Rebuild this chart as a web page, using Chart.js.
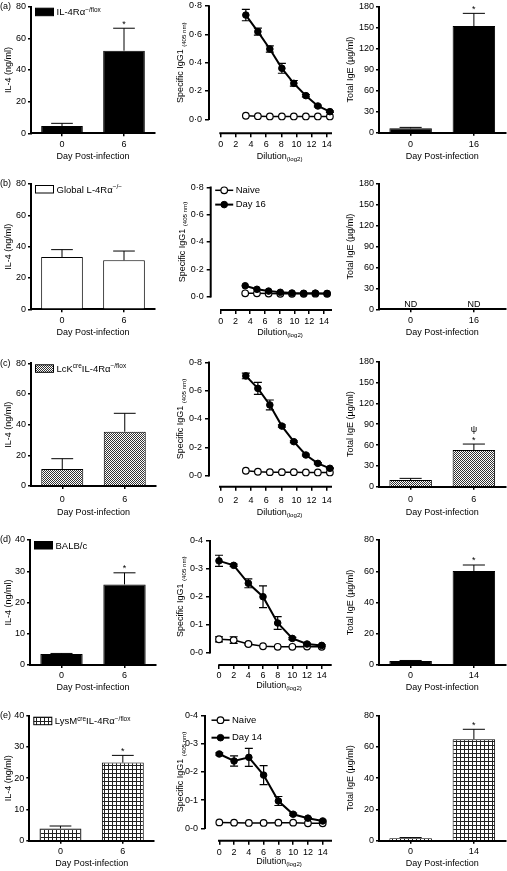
<!DOCTYPE html>
<html>
<head>
<meta charset="utf-8">
<title>IL-4, IgG1 and IgE panels</title>
<script src="https://cdn.jsdelivr.net/npm/chart.js@4.4.1/dist/chart.umd.min.js"></script>
<style>
  html, body { margin: 0; padding: 0; background: #fff; }
  body { position: relative; width: 507px; height: 871px; overflow: hidden; }
  canvas { position: absolute; }
</style>
</head>
<body>
<script>
const FONT = "'Liberation Sans', Arial, Helvetica, sans-serif";

// ---- IL-4 (ng/ml), left column ----
const IL4_DAYS = ["0", "6"];
const IL4_TICKS_ABC = [0, 20, 40, 60, 80];
const IL4_TICKS_DE = [0, 10, 20, 30, 40];

const IL4_A = [4.6, 52.2];
const IL4_A_ERR = [1.7, 14.2];
const IL4_A_SIG = [[], ["*"]];

const IL4_B = [33.4, 31.3];
const IL4_B_ERR = [4.7, 5.9];

const IL4_C = [11.1, 35.4];
const IL4_C_ERR = [6.7, 12.0];

const IL4_D = [3.5, 25.8];
const IL4_D_ERR = [0.2, 3.7];
const IL4_D_SIG = [[], ["*"]];

const IL4_E = [3.9, 25.0];
const IL4_E_ERR = [0.8, 2.3];
const IL4_E_SIG = [[], ["*"]];

const GENO_A = [{ t: "IL-4Rα" }, { t: "−/flox", sup: true }];
const GENO_B = [{ t: "Global L-4Rα" }, { t: "−/−", sup: true }];
const GENO_C = [{ t: "LcK" }, { t: "cre", sup: true }, { t: "IL-4Rα" }, { t: "−/flox", sup: true }];
const GENO_D = [{ t: "BALB/c" }];
const GENO_E = [{ t: "LysM" }, { t: "cre", sup: true }, { t: "IL-4Rα" }, { t: "−/flox", sup: true }];

// ---- specific IgG1 titrations, middle column ----
const DILUTION_ABC = [3.32, 4.91, 6.49, 8.08, 9.66, 11.25, 12.83, 14.42];
const DILUTION_DE = [0, 2, 4, 6, 8, 10, 12, 14];
const DILUTION_TICKS = [0, 2, 4, 6, 8, 10, 12, 14];
const IGG1_TICKS_ABC = [0, 0.2, 0.4, 0.6, 0.8];
const IGG1_TICKS_DE = [0, 0.1, 0.2, 0.3, 0.4];

const IGG1_A_DAY = [0.736, 0.619, 0.496, 0.360, 0.254, 0.167, 0.094, 0.054];
const IGG1_A_DAY_ERR = [0.040, 0.025, 0.022, 0.035, 0.020, 0.008, 0.006, 0.005];
const IGG1_A_NAIVE = [0.025, 0.022, 0.020, 0.020, 0.020, 0.020, 0.020, 0.020];

const IGG1_B_DAY = [0.080, 0.054, 0.041, 0.032, 0.027, 0.025, 0.026, 0.024];
const IGG1_B_NAIVE = [0.025, 0.025, 0.023, 0.021, 0.021, 0.021, 0.022, 0.021];
const IGG1_B_SERIES = ["Naive", "Day 16"];

const IGG1_C_DAY = [0.704, 0.616, 0.499, 0.350, 0.240, 0.146, 0.087, 0.052];
const IGG1_C_DAY_ERR = [0.020, 0.042, 0.035, 0.008, 0.006, 0.006, 0.005, 0.004];
const IGG1_C_NAIVE = [0.035, 0.028, 0.025, 0.025, 0.025, 0.023, 0.023, 0.023];

const IGG1_D_DAY = [0.328, 0.312, 0.248, 0.200, 0.106, 0.051, 0.031, 0.026];
const IGG1_D_DAY_ERR = [0.020, 0.004, 0.016, 0.039, 0.023, 0.004, 0.003, 0.003];
const IGG1_D_NAIVE = [0.048, 0.045, 0.031, 0.023, 0.021, 0.021, 0.022, 0.021];
const IGG1_D_NAIVE_ERR = [0.009, 0.012, 0.003, 0, 0, 0, 0, 0];

const IGG1_E_DAY = [0.264, 0.239, 0.252, 0.189, 0.097, 0.050, 0.036, 0.026];
const IGG1_E_DAY_ERR = [0.004, 0.018, 0.032, 0.034, 0.016, 0.004, 0.003, 0.003];
const IGG1_E_NAIVE = [0.021, 0.020, 0.019, 0.019, 0.020, 0.020, 0.018, 0.018];
const IGG1_E_SERIES = ["Naive", "Day 14"];

// ---- total IgE (µg/ml), right column ----
const IGE_TICKS_ABC = [0, 30, 60, 90, 120, 150, 180];
const IGE_TICKS_DE = [0, 20, 40, 60, 80];

const IGE_A_DAYS = ["0", "16"];
const IGE_A = [6.2, 152.4];
const IGE_A_ERR = [1.4, 18.1];
const IGE_A_SIG = [[], ["*"]];

const IGE_B_DAYS = ["0", "16"];
const IGE_B = [null, null];
const IGE_B_NOTE = ["ND", "ND"];

const IGE_C_DAYS = ["0", "6"];
const IGE_C = [9.6, 52.8];
const IGE_C_ERR = [2.4, 8.6];
const IGE_C_SIG = [[], ["*", "ψ"]];

const IGE_D_DAYS = ["0", "14"];
const IGE_D = [2.5, 60.2];
const IGE_D_ERR = [0.4, 3.8];
const IGE_D_SIG = [[], ["*"]];

const IGE_E_DAYS = ["0", "14"];
const IGE_E = [1.6, 65.0];
const IGE_E_ERR = [0.4, 6.3];
const IGE_E_SIG = [[], ["*"]];

// ---- fills ----
function tile(size, paint) {
    const c = document.createElement("canvas");
    c.width = size;
    c.height = size;
    const g = c.getContext("2d");
    paint(g);
    return g.createPattern(c, "repeat");
}

// fine dotted fill used for the LcK-cre bars
const CHECKER = tile(2, (g) => {
    g.fillStyle = "#fff";
    g.fillRect(0, 0, 2, 2);
    g.fillStyle = "#333";
    g.fillRect(0, 0, 1, 1);
    g.fillRect(1, 1, 1, 1);
});

// square grid fill used for the LysM-cre bars
const GRID = tile(4, (g) => {
    g.fillStyle = "#fff";
    g.fillRect(0, 0, 4, 4);
    g.fillStyle = "#222";
    g.fillRect(0, 0, 4, 1);
    g.fillRect(0, 0, 1, 4);
});

// ---- drawing helpers ----
function richWidth(ctx, parts, size) {
    let w = 0;
    parts.forEach((p) => {
        ctx.font = `${p.sup || p.sub ? size * 0.68 : size}px ${FONT}`;
        w += ctx.measureText(p.t).width;
    });
    return w;
}

function drawRich(ctx, parts, x, y, size, align, rot) {
    ctx.save();
    ctx.translate(x, y);
    if (rot) ctx.rotate(rot);
    let cx = align === "center" ? -richWidth(ctx, parts, size) / 2 : 0;
    ctx.textAlign = "left";
    ctx.textBaseline = "alphabetic";
    ctx.fillStyle = "#000";
    parts.forEach((p) => {
        const s = p.sup || p.sub ? size * 0.68 : size;
        ctx.font = `${s}px ${FONT}`;
        const dy = p.sup ? -size * 0.4 : p.sub ? size * 0.28 : 0;
        ctx.fillText(p.t, cx, dy + size * 0.36);
        cx += ctx.measureText(p.t).width;
    });
    ctx.restore();
}

function drawErrors(chart) {
    const ctx = chart.ctx;
    const ys = chart.scales.y;
    chart.data.datasets.forEach((ds, i) => {
        if (!ds.errors) return;
        const meta = chart.getDatasetMeta(i);
        const isBar = meta.type === "bar";
        ctx.save();
        ctx.strokeStyle = "#000";
        ctx.lineWidth = isBar ? 1 : 1.2;
        meta.data.forEach((el, j) => {
            const err = ds.errors[j];
            const raw = ds.data[j];
            const v = raw !== null && typeof raw === "object" ? raw.y : raw;
            if (!err || v === null || v === undefined) return;
            const top = ys.getPixelForValue(v + err);
            const bot = isBar ? el.y : ys.getPixelForValue(v - err);
            const hw = isBar ? el.width * 0.26 : 4;
            ctx.beginPath();
            ctx.moveTo(el.x, bot);
            ctx.lineTo(el.x, top);
            ctx.moveTo(el.x - hw, top);
            ctx.lineTo(el.x + hw, top);
            if (!isBar) {
                ctx.moveTo(el.x - hw, bot);
                ctx.lineTo(el.x + hw, bot);
            }
            ctx.stroke();
        });
        ctx.restore();
    });
}

const decor = {
    id: "decor",
    beforeDatasetsDraw(chart) {
        if (chart.config.type === "line") drawErrors(chart);
    },
    afterDatasetsDraw(chart) {
        if (chart.config.type === "bar") drawErrors(chart);
    },
    afterDraw(chart) {
        const p = chart.canvas._decor;
        const ctx = chart.ctx;
        const a = chart.chartArea;
        const xs = chart.scales.x;
        const ys = chart.scales.y;
        const zero = ys.getPixelForValue(0);
        ctx.save();
        ctx.fillStyle = "#000";
        ctx.strokeStyle = "#000";

        let xMid = (a.left + a.right) / 2;
        if (p.kind === "line") {
            const xStart = xs.getPixelForValue(p.xLineFrom);
            ctx.lineWidth = 2;
            ctx.beginPath();
            ctx.moveTo(a.left, zero + 0.75);
            ctx.lineTo(a.left, a.top - 0.75);
            ctx.moveTo(xStart, a.bottom);
            ctx.lineTo(a.right, a.bottom);
            ctx.stroke();
            xMid = (xStart + a.right) / 2 + 4;
        }

        drawRich(ctx, p.yTitle, a.left - p.yTitleOff, (zero + a.top) / 2, 9, "center", -Math.PI / 2);
        drawRich(ctx, p.xTitle, xMid, a.bottom + p.titleGap, 9, "center");

        if (p.tag) {
            ctx.font = `9px ${FONT}`;
            ctx.textAlign = "left";
            ctx.textBaseline = "middle";
            ctx.fillText(p.tag, 0, a.top);
        }

        if (p.legend) {
            const bx = a.left + 4.5, by = a.top + 1.5, bw = 18, bh = 7.5;
            ctx.fillStyle = p.fill;
            ctx.fillRect(bx, by, bw, bh);
            ctx.lineWidth = 1;
            ctx.strokeRect(bx, by, bw, bh);
            drawRich(ctx, p.legend, bx + bw + 3, by + bh / 2, 9.5, "left");
        }

        if (p.series) {
            p.legendOrder.forEach((di, k) => {
                const ds = chart.data.datasets[di];
                const y = a.top + p.legendPos.dy + k * p.legendPos.gap;
                const x1 = a.left + p.legendPos.dx;
                const x2 = x1 + 18;
                ctx.lineWidth = ds.borderWidth;
                ctx.strokeStyle = "#000";
                ctx.beginPath();
                ctx.moveTo(x1, y);
                ctx.lineTo(x2, y);
                ctx.stroke();
                ctx.beginPath();
                ctx.arc((x1 + x2) / 2, y, ds.pointRadius, 0, Math.PI * 2);
                ctx.fillStyle = ds.pointBackgroundColor;
                ctx.fill();
                ctx.lineWidth = ds.pointBorderWidth;
                ctx.stroke();
                ctx.fillStyle = "#000";
                ctx.font = `9.5px ${FONT}`;
                ctx.textAlign = "left";
                ctx.textBaseline = "middle";
                ctx.fillText(ds.label, x2 + 2.5, y);
            });
        }

        if (p.marks || p.notes) {
            ctx.fillStyle = "#000";
            ctx.font = `9px ${FONT}`;
            ctx.textAlign = "center";
            ctx.textBaseline = "middle";
            p.values.forEach((v, j) => {
                const x = xs.getPixelForValue(j);
                if (v === null) {
                    if (p.notes) ctx.fillText(p.notes[j], x, zero - 5);
                    return;
                }
                const cap = ys.getPixelForValue(v + (p.errors ? p.errors[j] : 0));
                ((p.marks && p.marks[j]) || []).forEach((m, k) => {
                    ctx.fillText(m, x, cap - 4 - k * 11);
                });
            });
        }
        ctx.restore();
    },
};

function makeCanvas(box) {
    const c = document.createElement("canvas");
    c.width = box[2];
    c.height = box[3];
    c.style.left = box[0] + "px";
    c.style.top = box[1] + "px";
    c.style.width = box[2] + "px";
    c.style.height = box[3] + "px";
    document.body.appendChild(c);
    return c;
}

function tickGrid(len) {
    return { drawOnChartArea: false, drawTicks: true, tickLength: len, color: "#000", lineWidth: 1.5 };
}

function baseOptions(p, scales) {
    const box = p.box, area = p.area;
    const yWidth = area[0] - box[0];
    const xHeight = box[1] + box[3] - area[3];
    scales.x.afterFit = (s) => {
        s.height = xHeight;
        s.paddingLeft = 0;
        s.paddingRight = 0;
    };
    scales.y.afterFit = (s) => {
        s.width = yWidth;
        s.paddingTop = 0;
        s.paddingBottom = 0;
    };
    return {
        responsive: false,
        animation: false,
        devicePixelRatio: 1,
        layout: { padding: { left: 0, bottom: 0, top: area[1] - box[1], right: box[0] + box[2] - area[2] } },
        plugins: { legend: { display: false }, tooltip: { enabled: false } },
        scales,
    };
}

function tickFont() {
    return { family: FONT, size: 9 };
}

function barPanel(p) {
    p.kind = "bar";
    const canvas = makeCanvas(p.box);
    canvas._decor = p;
    return new Chart(canvas, {
        type: "bar",
        data: {
            labels: p.labels,
            datasets: [{
                data: p.values,
                errors: p.errors,
                backgroundColor: p.fill,
                borderColor: "#000",
                borderWidth: 1,
                barPercentage: 0.84,
                categoryPercentage: 0.8,
            }],
        },
        options: baseOptions(p, {
            x: {
                grid: { ...tickGrid(3), offset: false },
                border: { display: true, color: "#000", width: 2 },
                ticks: { color: "#000", font: tickFont(), padding: p.tickPad, maxRotation: 0, autoSkip: false },
            },
            y: {
                min: 0,
                max: p.yTicks[p.yTicks.length - 1],
                afterBuildTicks: (s) => { s.ticks = p.yTicks.map((v) => ({ value: v })); },
                grid: tickGrid(3),
                border: { display: true, color: "#000", width: 2 },
                ticks: { color: "#000", font: tickFont(), padding: 2, callback: (v) => String(v) },
            },
        }),
        plugins: [decor],
    });
}

function linePanel(p) {
    p.kind = "line";
    const canvas = makeCanvas(p.box);
    canvas._decor = p;
    const area = p.area;
    const unit = (p.px14 - p.px0) / 14;
    const xMin = (area[0] - p.px0) / unit;
    const xMax = (area[2] - p.px0) / unit;
    p.xLineFrom = (p.lineStart - p.px0) / unit;
    const yMax = p.yTicks[p.yTicks.length - 1];
    const yMin = -yMax * (area[3] - p.zeroPx) / (p.zeroPx - area[1]);
    const pts = (ys) => p.dilution.map((x, i) => ({ x, y: ys[i] }));
    return new Chart(canvas, {
        type: "line",
        data: {
            datasets: [
                {
                    label: p.names[1], data: pts(p.day), errors: p.dayErr,
                    borderColor: "#000", borderWidth: 2, tension: 0, clip: false,
                    pointRadius: 3.3, pointBackgroundColor: "#000", pointBorderColor: "#000", pointBorderWidth: 1,
                },
                {
                    label: p.names[0], data: pts(p.naive), errors: p.naiveErr,
                    borderColor: "#000", borderWidth: 1.5, tension: 0, clip: false,
                    pointRadius: 3.3, pointBackgroundColor: "#fff", pointBorderColor: "#000", pointBorderWidth: 1.2,
                },
            ],
        },
        options: baseOptions(p, {
            x: {
                type: "linear",
                min: xMin,
                max: xMax,
                afterBuildTicks: (s) => { s.ticks = DILUTION_TICKS.map((v) => ({ value: v })); },
                grid: tickGrid(4),
                border: { display: false },
                ticks: { color: "#000", font: tickFont(), padding: p.tickPad, maxRotation: 0, autoSkip: false, callback: (v) => String(v) },
            },
            y: {
                min: yMin,
                max: yMax,
                afterBuildTicks: (s) => { s.ticks = p.yTicks.map((v) => ({ value: v })); },
                grid: tickGrid(4),
                border: { display: false },
                ticks: { color: "#000", font: tickFont(), padding: 3, callback: (v) => v.toFixed(1).replace(".", p.sep) },
            },
        }),
        plugins: [decor],
    });
}

const IL4_TITLE = [{ t: "IL-4 (ng/ml)" }];
const DAY_TITLE = [{ t: "Day Post-infection" }];
const IGG1_TITLE = [{ t: "Specific IgG1 " }, { t: "(405 nm)", sub: true }];
const DIL_TITLE = [{ t: "Dilution" }, { t: "(log2)", sub: true }];
const IGE_TITLE = [{ t: "Total IgE (µg/ml)" }];

// ---- left column ----
barPanel({ box: [0, 0, 168, 172], area: [31, 6.7, 155, 133.3], tickPad: 3, titleGap: 22.4,
    labels: IL4_DAYS, values: IL4_A, errors: IL4_A_ERR, marks: IL4_A_SIG, fill: "#000",
    yTicks: IL4_TICKS_ABC, yTitle: IL4_TITLE, yTitleOff: 23, xTitle: DAY_TITLE, tag: "(a)", legend: GENO_A });
barPanel({ box: [0, 175, 168, 172], area: [31, 184, 155, 309.3], tickPad: 3, titleGap: 22.7,
    labels: IL4_DAYS, values: IL4_B, errors: IL4_B_ERR, fill: "#fff",
    yTicks: IL4_TICKS_ABC, yTitle: IL4_TITLE, yTitleOff: 23, xTitle: DAY_TITLE, tag: "(b)", legend: GENO_B });
barPanel({ box: [0, 350, 168, 174], area: [31, 363.3, 156, 486], tickPad: 5, titleGap: 25.7,
    labels: IL4_DAYS, values: IL4_C, errors: IL4_C_ERR, fill: CHECKER,
    yTicks: IL4_TICKS_ABC, yTitle: IL4_TITLE, yTitleOff: 23, xTitle: DAY_TITLE, tag: "(c)", legend: GENO_C });
barPanel({ box: [0, 525, 168, 172], area: [30, 540, 156, 665], tickPad: 2, titleGap: 21.7,
    labels: IL4_DAYS, values: IL4_D, errors: IL4_D_ERR, marks: IL4_D_SIG, fill: "#000",
    yTicks: IL4_TICKS_DE, yTitle: IL4_TITLE, yTitleOff: 22, xTitle: DAY_TITLE, tag: "(d)", legend: GENO_D });
barPanel({ box: [0, 697, 168, 174], area: [29.3, 715.7, 154, 840.7], tickPad: 2, titleGap: 22,
    labels: IL4_DAYS, values: IL4_E, errors: IL4_E_ERR, marks: IL4_E_SIG, fill: GRID,
    yTicks: IL4_TICKS_DE, yTitle: IL4_TITLE, yTitleOff: 21.5, xTitle: DAY_TITLE, tag: "(e)", legend: GENO_E });

// ---- middle column ----
linePanel({ box: [168, 0, 172, 172], area: [209, 6, 332, 133.3], zeroPx: 119.3, px0: 220.7, px14: 326.7, lineStart: 219.3,
    tickPad: 2, titleGap: 22.4, sep: "·", yTicks: IGG1_TICKS_ABC, dilution: DILUTION_ABC,
    day: IGG1_A_DAY, dayErr: IGG1_A_DAY_ERR, naive: IGG1_A_NAIVE, names: ["Naive", "Day 16"],
    yTitle: IGG1_TITLE, yTitleOff: 29, xTitle: DIL_TITLE });
linePanel({ box: [168, 175, 172, 172], area: [210.7, 187.3, 332, 310], zeroPx: 296.7, px0: 220.7, px14: 324, lineStart: 220,
    tickPad: 2, titleGap: 21.7, sep: "·", yTicks: IGG1_TICKS_ABC, dilution: DILUTION_ABC,
    day: IGG1_B_DAY, naive: IGG1_B_NAIVE, names: IGG1_B_SERIES,
    series: true, legendOrder: [1, 0], legendPos: { dx: 4.5, dy: 3, gap: 14.3 },
    yTitle: IGG1_TITLE, yTitleOff: 29, xTitle: DIL_TITLE });
linePanel({ box: [168, 350, 172, 174], area: [209, 362.3, 332, 486.7], zeroPx: 475.7, px0: 220.7, px14: 326.7, lineStart: 219,
    tickPad: 4, titleGap: 25, sep: "-", yTicks: IGG1_TICKS_ABC, dilution: DILUTION_ABC,
    day: IGG1_C_DAY, dayErr: IGG1_C_DAY_ERR, naive: IGG1_C_NAIVE, names: ["Naive", "Day 6"],
    yTitle: IGG1_TITLE, yTitleOff: 29, xTitle: DIL_TITLE });
linePanel({ box: [168, 525, 172, 172], area: [210, 540.7, 331.7, 665], zeroPx: 652.7, px0: 219, px14: 321.7, lineStart: 218.3,
    tickPad: 1, titleGap: 19.5, sep: "-", yTicks: IGG1_TICKS_DE, dilution: DILUTION_DE,
    day: IGG1_D_DAY, dayErr: IGG1_D_DAY_ERR, naive: IGG1_D_NAIVE, naiveErr: IGG1_D_NAIVE_ERR, names: ["Naive", "Day 14"],
    yTitle: IGG1_TITLE, yTitleOff: 30, xTitle: DIL_TITLE });
linePanel({ box: [168, 697, 172, 174], area: [205, 715.7, 332, 840.7], zeroPx: 828.3, px0: 219.3, px14: 322.7, lineStart: 218,
    tickPad: 2, titleGap: 20, sep: "-", yTicks: IGG1_TICKS_DE, dilution: DILUTION_DE,
    day: IGG1_E_DAY, dayErr: IGG1_E_DAY_ERR, naive: IGG1_E_NAIVE, names: IGG1_E_SERIES,
    series: true, legendOrder: [1, 0], legendPos: { dx: 6.5, dy: 4.5, gap: 17.5 },
    yTitle: IGG1_TITLE, yTitleOff: 25, xTitle: DIL_TITLE });

// ---- right column ----
barPanel({ box: [340, 0, 167, 172], area: [379, 6.7, 505.5, 132.7], tickPad: 3, titleGap: 23,
    labels: IGE_A_DAYS, values: IGE_A, errors: IGE_A_ERR, marks: IGE_A_SIG, fill: "#000",
    yTicks: IGE_TICKS_ABC, yTitle: IGE_TITLE, yTitleOff: 29, xTitle: DAY_TITLE });
barPanel({ box: [340, 175, 167, 172], area: [379, 184, 505.5, 309.3], tickPad: 3, titleGap: 22.7,
    labels: IGE_B_DAYS, values: IGE_B, notes: IGE_B_NOTE, fill: "#fff",
    yTicks: IGE_TICKS_ABC, yTitle: IGE_TITLE, yTitleOff: 29, xTitle: DAY_TITLE });
barPanel({ box: [340, 350, 167, 174], area: [379, 361.7, 505.5, 486.7], tickPad: 4, titleGap: 25.3,
    labels: IGE_C_DAYS, values: IGE_C, errors: IGE_C_ERR, marks: IGE_C_SIG, fill: CHECKER,
    yTicks: IGE_TICKS_ABC, yTitle: IGE_TITLE, yTitleOff: 29, xTitle: DAY_TITLE });
barPanel({ box: [340, 525, 167, 172], area: [379, 540, 505.5, 665], tickPad: 2, titleGap: 21.7,
    labels: IGE_D_DAYS, values: IGE_D, errors: IGE_D_ERR, marks: IGE_D_SIG, fill: "#000",
    yTicks: IGE_TICKS_DE, yTitle: IGE_TITLE, yTitleOff: 29, xTitle: DAY_TITLE });
barPanel({ box: [340, 697, 167, 174], area: [379, 715.7, 505.5, 840.7], tickPad: 2, titleGap: 22,
    labels: IGE_E_DAYS, values: IGE_E, errors: IGE_E_ERR, marks: IGE_E_SIG, fill: GRID,
    yTicks: IGE_TICKS_DE, yTitle: IGE_TITLE, yTitleOff: 29, xTitle: DAY_TITLE });
</script>
</body>
</html>
